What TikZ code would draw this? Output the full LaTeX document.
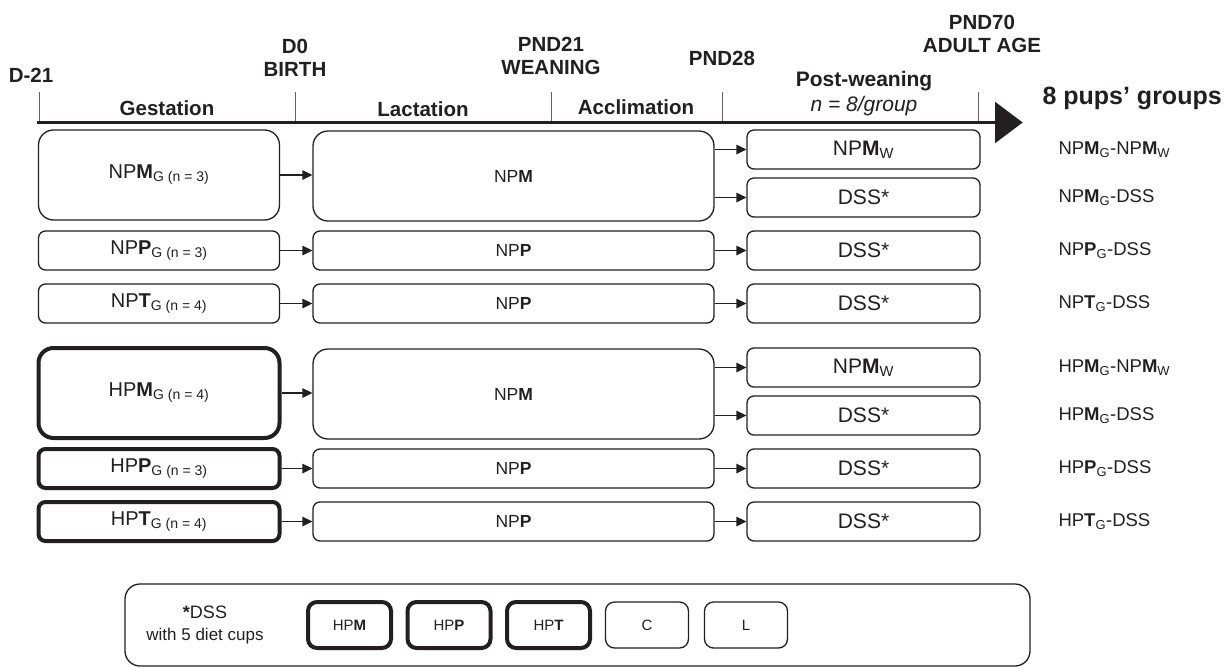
\documentclass[tikz,border=0pt]{standalone}
\usepackage{fontspec}
\setmainfont{Liberation Sans}
\usetikzlibrary{arrows.meta}
\definecolor{ink}{HTML}{231F20}

\tikzset{
  box/.style={draw=ink, text=ink, line width=1.3pt, rounded corners=7pt, inner sep=0pt,
    minimum height=39pt, font=\fontsize{20}{24}\selectfont},
  bigbox/.style={box, rounded corners=15pt, minimum height=90pt},
  arr/.style={draw=ink, line width=1.4pt, -{Triangle[length=10pt,width=9.5pt]}},
  head/.style={text=ink, align=center, font=\bfseries\fontsize{20.5}{23.5}\selectfont},
  grp/.style={text=ink, anchor=west, font=\fontsize{18.5}{22}\selectfont},
  cup/.style={box, rounded corners=9pt, minimum width=83pt, minimum height=46pt,
    font=\fontsize{15}{18}\selectfont},
}

\begin{document}
\begin{tikzpicture}[x=1pt,y=-1pt]
		\useasboundingbox (0,0) rectangle (1229,667);

		% time line
		\draw[ink, line width=3pt] (36.5,122.5) coordinate (t0) -- (995,122.5) coordinate (t1);
		\fill[ink] (995,101.7) -- (1022.7,122.5) -- (995,143.3) -- cycle;
		\foreach \x in {39.5,295,551,722,978}
			\draw[ink!70, line width=0.8pt] (\x,92) -- (\x,121);

		\node[head] (d21) at (31,75) {D-21};
		\node[head] (d0) at (295,58) {D0\\BIRTH};
		\node[head] (pnd21) at (551,56) {PND21\\WEANING};
		\node[head] (pnd28) at (722,58) {PND28};
		\node[head] (pnd70) at (982,34) {PND70\\ADULT AGE};

		\node[head] (gest) at (167,108) {Gestation};
		\node[head] (lact) at (423,109) {Lactation};
		\node[head] (accl) at (636,107) {Acclimation};
		\node[head, font=\bfseries\fontsize{21}{24}\selectfont] (post) at (864,81) {Post-weaning};
		\node[head, font=\itshape\fontsize{21}{24}\selectfont] (npg) at (864,106) {n = 8/group};
		\node[head, anchor=west, font=\bfseries\fontsize{25}{30}\selectfont] (pups) at (1039,98) {8 pups’ groups};

		% the two dam groups
		\foreach \grp/\dy/\lw/\nm/\np/\nt in {NP/0/1.3/3/3/4, HP/218/4/4/3/4}{
			\node[bigbox, line width=\lw pt, minimum width=241pt] (\grp gM) at (159,175+\dy) {\grp\textbf{M}\textsubscript{G (n = \nm)}};
			\node[box, line width=\lw pt, minimum width=241pt] (\grp gP) at (159,250.5+\dy) {\grp\textbf{P}\textsubscript{G (n = \np)}};
			\node[box, line width=\lw pt, minimum width=241pt] (\grp gT) at (159,303.5+\dy) {\grp\textbf{T}\textsubscript{G (n = \nt)}};

			\node[bigbox, minimum width=401pt, font=\fontsize{17.5}{21}\selectfont] (\grp lM) at (513.5,176+\dy) {NP\textbf{M}};
			\node[box, minimum width=401pt, font=\fontsize{17.5}{21}\selectfont] (\grp lP) at (513.5,250.5+\dy) {NP\textbf{P}};
			\node[box, minimum width=401pt, font=\fontsize{17.5}{21}\selectfont] (\grp lT) at (513.5,303.5+\dy) {NP\textbf{P}};

			\node[box, minimum width=233pt, font=\fontsize{21}{24}\selectfont] (\grp wM) at (863.5,149.5+\dy) {NP\textbf{M}\textsubscript{W}};
			\node[box, minimum width=233pt, font=\fontsize{21}{24}\selectfont] (\grp wD) at (863.5,197.5+\dy) {DSS*};
			\node[box, minimum width=233pt, font=\fontsize{21}{24}\selectfont] (\grp wP) at (863.5,250.5+\dy) {DSS*};
			\node[box, minimum width=233pt, font=\fontsize{21}{24}\selectfont] (\grp wT) at (863.5,303.5+\dy) {DSS*};

			\draw[arr] (\grp gM.east) -- (\grp gM.east -| \grp lM.west);
			\draw[arr] (\grp gP) -- (\grp lP);
			\draw[arr] (\grp gT) -- (\grp lT);
			\draw[arr] (\grp lM.east |- \grp wM) -- (\grp wM.west);
			\draw[arr] (\grp lM.east |- \grp wD) -- (\grp wD.west);
			\draw[arr] (\grp lP) -- (\grp wP);
			\draw[arr] (\grp lT) -- (\grp wT);

			\node[grp] (\grp oM) at (1055,149.5+\dy) {\grp\textbf{M}\textsubscript{G}-NP\textbf{M}\textsubscript{W}};
			\node[grp] (\grp oD) at (1055,197.5+\dy) {\grp\textbf{M}\textsubscript{G}-DSS};
			\node[grp] (\grp oP) at (1055,250.5+\dy) {\grp\textbf{P}\textsubscript{G}-DSS};
			\node[grp] (\grp oT) at (1055,303.5+\dy) {\grp\textbf{T}\textsubscript{G}-DSS};
		}

		% diet cups
		\node[box, rounded corners=15pt, minimum width=905pt, minimum height=82pt] (legend) at (577.5,625) {};
		\node[text=ink, align=center, font=\fontsize{17}{22}\selectfont] (dss) at (205,625) {{\fontsize{18}{22}\selectfont\textbf{*}DSS}\\with 5 diet cups};
		\foreach \x/\t/\lw [count=\i] in {349.5/HP\textbf{M}/4, 449/HP\textbf{P}/4, 548.5/HP\textbf{T}/4, 647/C/1.3, 746/L/1.3}
			\node[cup, line width=\lw pt] (cup\i) at (\x,625) {\t};

\end{tikzpicture}
\end{document}
